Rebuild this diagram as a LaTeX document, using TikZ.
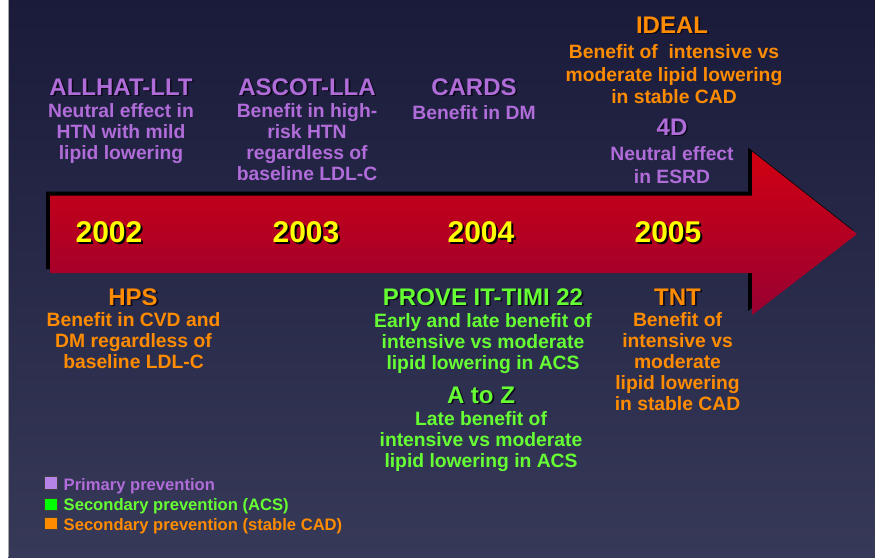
\documentclass[tikz,border=0pt]{standalone}
\usepackage{fontspec}
\setmainfont{Liberation Sans}
\definecolor{bgtop}{RGB}{26,27,58}
\definecolor{bgbot}{RGB}{55,57,88}
\definecolor{arrtop}{RGB}{208,0,18}
\definecolor{arrbot}{RGB}{152,0,50}
\definecolor{purp}{RGB}{176,108,216}
\definecolor{purpsq}{RGB}{182,132,230}
\definecolor{grn}{RGB}{102,255,51}
\definecolor{grnsq}{RGB}{0,255,0}
\definecolor{orng}{RGB}{255,140,0}
\definecolor{yel}{RGB}{255,255,0}
\definecolor{tshadow}{RGB}{12,8,28}
\newcommand{\mytitle}[5]{% name, x, baseline, colour, text
  \node[ttl, text=tshadow] (#1s) at (#2+1.6, #3+1.6) {#5};
  \node[ttl, text=#4] (#1) at (#2, #3) {#5};}
\newcommand{\mydesc}[6]{% style, name, x, first baseline, colour, text
  \node[#1, text=#5] (#2) at (#3, #4-15.4) {\rule{0pt}{15.4pt}#6};}
\newcommand{\myyear}[3]{% name, x, text
  \node[yr, text=black] (#1s) at (#2+2, 244) {#3};
  \node[yr, text=yel] (#1) at (#2, 242) {#3};}
\begin{document}
\begin{tikzpicture}[x=1pt,y=-1pt,
  ttl/.style={font=\fontsize{24}{24}\selectfont\bfseries, inner sep=0, anchor=base},
  dsc/.style={font=\fontsize{19.3}{21}\selectfont\bfseries, align=center, inner sep=0, anchor=north},
  dscwide/.style={font=\fontsize{19.3}{22.5}\selectfont\bfseries, align=center, inner sep=0, anchor=north},
  yr/.style={font=\fontsize{30}{30}\selectfont\bfseries, inner sep=0, anchor=base},
  legsq/.style={draw=black!75, line width=0.8, minimum size=12.5, inner sep=0},
  legtxt/.style={font=\fontsize{16.6}{18}\selectfont\bfseries, inner sep=0, anchor=base west}]
\useasboundingbox (0,0) rectangle (875,557);
\fill[white] (0,0) rectangle (875,557);
\shade[top color=bgtop, bottom color=bgbot] (8,0) rectangle (875,557);
\draw[black!35, line width=0.8] (8,0) -- (8,557);
% arrow shadow and arrow
\fill[black, shift={(-4,-4)}] (50,195.5) -- (752,195.5) -- (752,151.5) -- (857,234) -- (752,315) -- (752,273) -- (50,273) -- cycle;
\shade[top color=arrtop, bottom color=arrbot] (50,195.5) -- (752,195.5) -- (752,151.5) -- (857,234) -- (752,315) -- (752,273) -- (50,273) -- cycle;
% years
\myyear{y2002}{109}{2002}
\myyear{y2003}{306}{2003}
\myyear{y2004}{481}{2004}
\myyear{y2005}{668}{2005}
% top studies
\mytitle{allhat}{121}{95}{purp}{ALLHAT-LLT}
\mydesc{dsc}{allhatd}{121}{117.3}{purp}{Neutral effect in\\HTN with mild\\lipid lowering}
\mytitle{ascot}{307}{95}{purp}{ASCOT-LLA}
\mydesc{dsc}{ascotd}{307}{117.3}{purp}{Benefit in high-\\risk HTN\\regardless of\\baseline LDL-C}
\mytitle{cards}{474}{95}{purp}{CARDS}
\mydesc{dsc}{cardsd}{474}{119}{purp}{Benefit in DM}
\mytitle{ideal}{672}{33.3}{orng}{IDEAL}
\mydesc{dscwide}{ideald}{674}{58.3}{orng}{Benefit of~ intensive vs\\moderate lipid lowering\\in stable CAD}
\mytitle{fourd}{672}{135}{purp}{4D}
\mydesc{dscwide}{fourdd}{672}{160.7}{purp}{Neutral effect\\in ESRD}
% bottom studies
\mytitle{hps}{133}{305}{orng}{HPS}
\mydesc{dsc}{hpsd}{133.5}{326.7}{orng}{Benefit in CVD and\\DM regardless of\\baseline LDL-C}
\mytitle{prove}{483}{305}{grn}{PROVE IT-TIMI 22}
\mydesc{dsc}{proved}{483}{327}{grn}{Early and late benefit of\\intensive vs moderate\\lipid lowering in ACS}
\mytitle{atoz}{481}{403}{grn}{A to Z}
\mydesc{dsc}{atozd}{481}{425}{grn}{Late benefit of\\intensive vs moderate\\lipid lowering in ACS}
\mytitle{tnt}{677.5}{305}{orng}{TNT}
\mydesc{dsc}{tntd}{677.5}{326.7}{orng}{Benefit of\\intensive vs\\moderate\\lipid lowering\\in stable CAD}
% legend
\node[legsq, fill=purpsq] (sq1) at (51,483) {};
\node[legsq, fill=grnsq] (sq2) at (51,504.5) {};
\node[legsq, fill=orng] (sq3) at (51,523.5) {};
\node[legtxt, text=purp] (lg1) at (63.5,490) {Primary prevention};
\node[legtxt, text=grn] (lg2) at (63.5,510) {Secondary prevention (ACS)};
\node[legtxt, text=orng] (lg3) at (63.5,530) {Secondary prevention (stable CAD)};
\end{tikzpicture}
\end{document}
